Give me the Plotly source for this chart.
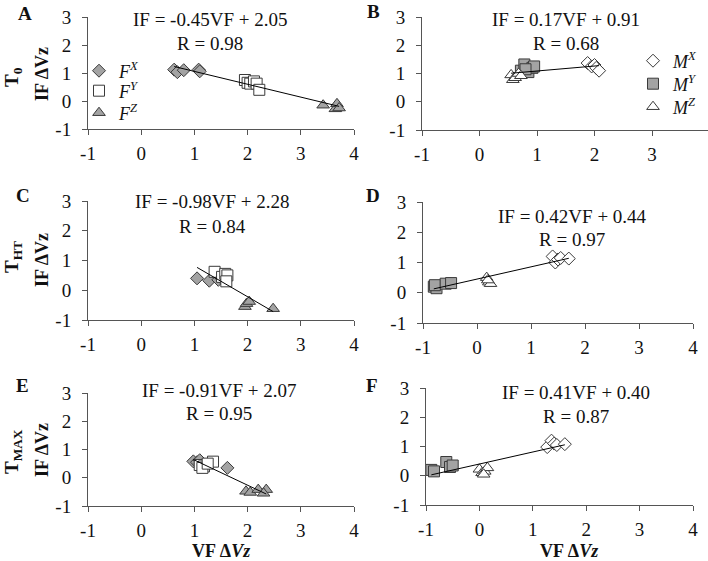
import numpy as np
import plotly.graph_objects as go

# ---------------- data ----------------
# Panel A (T0, force components)
A_FX_x = [0.62, 0.68, 0.80, 1.08, 1.10]
A_FX_y = [1.12, 1.03, 1.10, 1.12, 1.06]
A_FY_x = [1.95, 2.00, 2.05, 2.12, 2.17, 2.22]
A_FY_y = [0.75, 0.65, 0.62, 0.70, 0.62, 0.40]
A_FZ_x = [3.42, 3.65, 3.68, 3.72]
A_FZ_y = [-0.15, -0.28, -0.10, -0.25]
# Panel B (T0, moment components)
B_MX_x = [1.88, 1.95, 2.00, 2.03, 2.08]
B_MX_y = [1.37, 1.25, 1.30, 1.20, 1.10]
B_MY_x = [0.72, 0.78, 0.85, 0.92, 0.95, 0.80]
B_MY_y = [1.10, 1.32, 1.05, 1.20, 1.25, 1.15]
B_MZ_x = [0.55, 0.58, 0.62, 0.68, 0.72]
B_MZ_y = [0.95, 0.78, 0.85, 1.00, 0.92]
# Panel C (THT, force)
C_FX_x = [1.05, 1.28, 1.45, 1.50]
C_FX_y = [0.40, 0.32, 0.35, 0.42]
C_FY_x = [1.38, 1.52, 1.58, 1.62, 1.60]
C_FY_y = [0.62, 0.45, 0.55, 0.50, 0.30]
C_FZ_x = [1.95, 1.98, 2.03, 2.48]
C_FZ_y = [-0.55, -0.45, -0.38, -0.62]
# Panel D (THT, moment)
D_MX_x = [1.40, 1.45, 1.50, 1.55, 1.70]
D_MX_y = [1.20, 1.00, 1.10, 1.15, 1.13]
D_MY_x = [-0.80, -0.75, -0.78, -0.58, -0.48]
D_MY_y = [0.20, 0.15, 0.25, 0.30, 0.32]
D_MZ_x = [0.18, 0.22, 0.25, 0.20]
D_MZ_y = [0.50, 0.35, 0.30, 0.42]
# Panel E (TMAX, force)
E_FX_x = [0.98, 1.05, 1.12, 1.62, 1.10]
E_FX_y = [0.58, 0.55, 0.50, 0.35, 0.62]
E_FY_x = [1.10, 1.18, 1.35, 1.15, 1.25]
E_FY_y = [0.45, 0.40, 0.57, 0.35, 0.50]
E_FZ_x = [1.97, 2.05, 2.20, 2.35, 2.30]
E_FZ_y = [-0.48, -0.52, -0.42, -0.42, -0.55]
# Panel F (TMAX, moment)
F_MX_x = [1.27, 1.35, 1.40, 1.45, 1.60]
F_MX_y = [0.98, 1.20, 1.10, 1.05, 1.08]
F_MY_x = [-0.90, -0.85, -0.62, -0.55, -0.50]
F_MY_y = [0.20, 0.15, 0.47, 0.30, 0.35]
F_MZ_x = [0.00, 0.05, 0.10, 0.15, 0.08]
F_MZ_y = [0.22, 0.10, 0.15, 0.27, 0.05]

equations = ["IF = -0.45VF + 2.05", "IF = 0.17VF + 0.91", "IF = -0.98VF + 2.28",
             "IF = 0.42VF + 0.44", "IF = -0.91VF + 2.07", "IF = 0.41VF + 0.40"]
r_values = ["R = 0.98", "R = 0.68", "R = 0.84", "R = 0.97", "R = 0.95", "R = 0.87"]
panel_letters = ["A", "B", "C", "D", "E", "F"]
row_labels = ["T<sub>0</sub>", "T<sub>HT</sub>", "T<sub>MAX</sub>"]
tick_vals = [-1, 0, 1, 2, 3, 4]
tick_text = ["-1", "0", "1", "2", "3", "4"]
force_names = ["<i>F</i><sup><i>X</i></sup>", "<i>F</i><sup><i>Y</i></sup>", "<i>F</i><sup><i>Z</i></sup>"]
moment_names = ["<i>M</i><sup><i>X</i></sup>", "<i>M</i><sup><i>Y</i></sup>", "<i>M</i><sup><i>Z</i></sup>"]

# ---------------- styles ----------------
SERIF = "Liberation Serif, Times New Roman, serif"
GRAY = "#a3a3a3"
EDGE = "#3a3a3a"
force_styles = [("diamond", GRAY, 10), ("square", "white", 11), ("triangle-up", GRAY, 11)]
moment_styles = [("diamond", "white", 10), ("square", GRAY, 11), ("triangle-up", "white", 11)]

W, H = 708, 561
def px_x(p): return p / W
def px_y(p): return 1 - p / H

# axis boxes in pixels: (x_left, x_right, y_top(=3), y_bottom(=-1), xmax)
boxes = [
    (88, 354, 17, 129, 4.0),
    (422, 708, 17, 130, -1 + (708 - 422) / 57.5),
    (88, 354, 201, 320, 4.0),
    (423, 693, 202, 323, 4.0),
    (88, 354, 393, 506, 4.0),
    (426, 693, 388, 505, 4.0),
]

panels = [
    ([A_FX_x, A_FY_x, A_FZ_x], [A_FX_y, A_FY_y, A_FZ_y], "force"),
    ([B_MX_x, B_MY_x, B_MZ_x], [B_MX_y, B_MY_y, B_MZ_y], "moment"),
    ([C_FX_x, C_FY_x, C_FZ_x], [C_FX_y, C_FY_y, C_FZ_y], "force"),
    ([D_MX_x, D_MY_x, D_MZ_x], [D_MX_y, D_MY_y, D_MZ_y], "moment"),
    ([E_FX_x, E_FY_x, E_FZ_x], [E_FX_y, E_FY_y, E_FZ_y], "force"),
    ([F_MX_x, F_MY_x, F_MZ_x], [F_MX_y, F_MY_y, F_MZ_y], "moment"),
]

# legend ids: panel A -> legend, legend2, legend3 ; panel B -> legend4..6
legend_ids = {0: ["legend", "legend2", "legend3"], 1: ["legend4", "legend5", "legend6"]}

fig = go.Figure()
layout = {}
for i, ((xs, ys, kind), box) in enumerate(zip(panels, boxes)):
    n = "" if i == 0 else str(i + 1)
    xa, ya = "x" + n, "y" + n
    styles = force_styles if kind == "force" else moment_styles
    names = force_names if kind == "force" else moment_names
    for j in range(3):
        sym, fill, size = styles[j]
        show = i in legend_ids
        kw = dict(legend=legend_ids[i][j]) if show else {}
        fig.add_trace(go.Scatter(
            x=xs[j], y=ys[j], mode="markers", xaxis=xa, yaxis=ya,
            marker=dict(symbol=sym, size=size, color=fill, line=dict(color=EDGE, width=1)),
            name=names[j], showlegend=show, **kw,
        ))
    allx = np.concatenate([np.asarray(v, float) for v in xs])
    ally = np.concatenate([np.asarray(v, float) for v in ys])
    m, b = np.polyfit(allx, ally, 1)
    lx = np.array([allx.min(), allx.max()])
    fig.add_trace(go.Scatter(x=lx, y=m * lx + b, mode="lines", xaxis=xa, yaxis=ya,
                             line=dict(color="black", width=1), showlegend=False, hoverinfo="skip"))
    xl, xr, yt, yb, xmax = box
    common = dict(showline=True, linecolor="#555555", linewidth=1, ticks="outside", ticklen=5,
                  tickcolor="#555555", showgrid=False, zeroline=False, automargin=False,
                  tickfont=dict(family=SERIF, size=19, color="#111111"),
                  tickvals=tick_vals, ticktext=tick_text, fixedrange=True)
    layout["xaxis" + n] = dict(domain=[px_x(xl), px_x(xr)], range=[-1, xmax], anchor=ya,
                               ticklabelstandoff=2, **common)
    layout["yaxis" + n] = dict(domain=[px_y(yb), px_y(yt)], range=[-1, 3], anchor=xa,
                               ticklabelstandoff=7, **common)

fig.update_layout(**layout)

ann = []
eq_pos = [(210, 20, 43), (566, 20, 43), (212, 201, 226), (572, 217, 240), (219, 390, 413), (576, 392, 416)]
for i, (cx, y1, y2) in enumerate(eq_pos):
    ann.append(dict(x=px_x(cx), y=px_y(y1), text=equations[i], font_size=19))
    ann.append(dict(x=px_x(cx), y=px_y(y2), text=r_values[i], font_size=19))
letter_pos = [(25, 13), (373, 11), (23, 195), (373, 195), (22, 385), (372, 385)]
for i, (lx_, ly_) in enumerate(letter_pos):
    ann.append(dict(x=px_x(lx_), y=px_y(ly_), text="<b>" + panel_letters[i] + "</b>", font_size=19))
row_y = [77, 257, 452]
ytitle_y = [74, 260, 450]
for r in range(3):
    ann.append(dict(x=px_x(13), y=px_y(row_y[r]), text="<b>" + row_labels[r] + "</b>", textangle=-90, font_size=19))
    ann.append(dict(x=px_x(42), y=px_y(ytitle_y[r]), text="<b>IF ΔVz</b>", textangle=-90, font_size=18))
for cx in (221, 569):
    ann.append(dict(x=px_x(cx), y=px_y(551), text="<b>VF Δ<i>Vz</i></b>", font_size=18))

annotations = []
for a in ann:
    d = dict(xref="paper", yref="paper", showarrow=False, xanchor="center", yanchor="middle",
             font=dict(family=SERIF, size=a.pop("font_size", 19), color="#111111"))
    d.update(a)
    annotations.append(d)

legend_style = dict(xanchor="left", yanchor="middle", bgcolor="rgba(0,0,0,0)",
                    font=dict(family=SERIF, size=18, color="#111111"), itemwidth=30)
legend_rows_A = [71, 91, 113]
legend_rows_B = [61, 84, 107]
legends = {}
for k, yy in enumerate(legend_rows_A):
    legends[legend_ids[0][k]] = dict(x=px_x(79), y=px_y(yy), **legend_style)
for k, yy in enumerate(legend_rows_B):
    legends[legend_ids[1][k]] = dict(x=px_x(633), y=px_y(yy), **legend_style)

fig.update_layout(
    width=W, height=H, autosize=False,
    margin=dict(l=0, r=0, t=0, b=0, pad=0, autoexpand=False),
    paper_bgcolor="white", plot_bgcolor="white",
    annotations=annotations,
    **legends,
)

fig.write_html("out.html", config={"displayModeBar": False},
               post_script="document.body.style.margin='0px';document.body.style.overflow='hidden';")
